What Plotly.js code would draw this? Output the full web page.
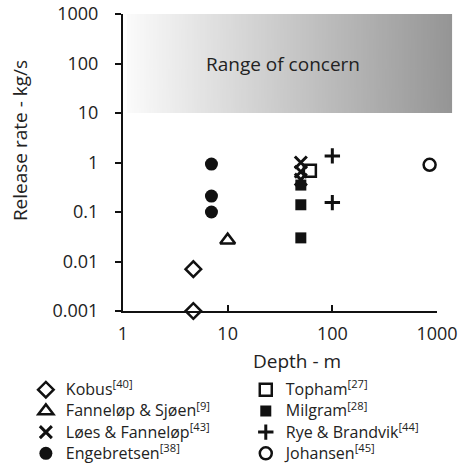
<!DOCTYPE html>
<html><head><meta charset="utf-8">
<script src="https://cdn.plot.ly/plotly-3.0.1.min.js"></script>
<style>html,body{margin:0;padding:0;background:#fff}#chart{width:462px;height:463px}</style>
</head><body><div id="chart"></div>
<script>
// Data (depth m, release rate kg/s)
const kobusX = [4.7, 4.7];            const kobusY = [0.007, 0.001];
const fanSjoenX = [10];               const fanSjoenY = [0.027];
const loesX = [50, 50, 50];           const loesY = [1.0, 0.65, 0.45];
const engX = [7, 7, 7];               const engY = [0.93, 0.21, 0.1];
const tophamX = [61];                 const tophamY = [0.68];
const milgramX = [50, 50, 50];        const milgramY = [0.35, 0.14, 0.03];
const ryeX = [100, 100];              const ryeY = [1.36, 0.155];
const johansenX = [850];              const johansenY = [0.9];
const xTicks = [1, 10, 100, 1000];
const xTickText = ['1', '10', '100', '1000'];
const yTicks = [0.001, 0.01, 0.1, 1, 10, 100, 1000];
const yTickText = ['0.001', '0.01', '0.1', '1', '10', '100', '1000'];

const font = 'Open Sans, sans-serif';
const black = '#111';
const txt = '#222';

function tr(name, x, y, symbol, size, lw, leg) {
  return {
    type: 'scatter', mode: 'markers', name: '<span style="font-size:16px">' + name + '</span>',
    x: x, y: y, cliponaxis: false, legend: leg,
    marker: {symbol: symbol, size: size, color: black, line: {color: black, width: lw}}
  };
}

const data = [
  tr('Kobus<sup>[40]</sup>', kobusX, kobusY, 'diamond-open', 12, 2.5, 'legend'),
  tr('Fanneløp &amp; Sjøen<sup>[9]</sup>', fanSjoenX, fanSjoenY, 'triangle-up-open', 13, 2.5, 'legend'),
  tr('Løes &amp; Fanneløp<sup>[43]</sup>', loesX, loesY, 'x-thin-open', 12, 3, 'legend'),
  tr('Engebretsen<sup>[38]</sup>', engX, engY, 'circle', 13, 0, 'legend'),
  tr('Topham<sup>[27]</sup>', tophamX, tophamY, 'square-open', 12, 2.5, 'legend2'),
  tr('Milgram<sup>[28]</sup>', milgramX, milgramY, 'square', 11, 0, 'legend2'),
  tr('Rye &amp; Brandvik<sup>[44]</sup>', ryeX, ryeY, 'cross-thin-open', 11, 3, 'legend2'),
  tr('Johansen<sup>[45]</sup>', johansenX, johansenY, 'circle-open', 12, 2.5, 'legend2')
];

// gradient image for the "Range of concern" band
const cv = document.createElement('canvas');
cv.width = 300; cv.height = 10;
const ctx = cv.getContext('2d');
const g = ctx.createLinearGradient(0, 0, 300, 0);
g.addColorStop(0, '#fbfbfb');
g.addColorStop(1, '#959595');
ctx.fillStyle = g; ctx.fillRect(0, 0, 300, 10);
const grad = cv.toDataURL();

const legendBase = {
  orientation: 'v', xref: 'container', yref: 'container', y: 0.192,
  xanchor: 'left', yanchor: 'top', itemwidth: 30,
  font: {size: 14, family: font, color: txt}, bgcolor: 'rgba(0,0,0,0)',
  tracegroupgap: 0
};

const layout = {
  width: 462, height: 463,
  margin: {l: 123, r: 25, t: 14, b: 152, autoexpand: false},
  paper_bgcolor: '#fff', plot_bgcolor: 'rgba(0,0,0,0)',
  font: {family: font, size: 16, color: txt},
  showlegend: true,
  xaxis: {
    type: 'log', range: [0, 3], showgrid: false, zeroline: false,
    showline: true, linecolor: black, linewidth: 2,
    ticks: 'inside', ticklen: 6, tickwidth: 2, tickcolor: black,
    tickvals: xTicks, ticktext: xTickText, tickfont: {size: 18, family: font, color: txt},
    ticklabelstandoff: 5
  },
  yaxis: {
    type: 'log', range: [-3, 3], showgrid: false, zeroline: false,
    showline: true, linecolor: black, linewidth: 2,
    ticks: 'outside', ticklen: 6, tickwidth: 2, tickcolor: black,
    tickvals: yTicks, ticktext: yTickText, tickfont: {size: 18, family: font, color: txt},
    ticklabelstandoff: 13
  },
  images: [{
    source: grad, xref: 'paper', yref: 'paper', x: 0.013, y: 1,
    sizex: 1.035, sizey: 0.3333, sizing: 'stretch', xanchor: 'left', yanchor: 'top', layer: 'below'
  }],
  annotations: [
    {text: 'Range of concern', xref: 'x', yref: 'y', x: Math.log10(34), y: 2, showarrow: false,
     xanchor: 'center', yanchor: 'middle', font: {size: 19, family: font, color: txt}},
    {text: 'Depth - m', xref: 'paper', yref: 'paper', x: 0.554, y: -0.168, showarrow: false,
     xanchor: 'center', yanchor: 'middle', font: {size: 19, family: font, color: txt}},
    {text: 'Release rate - kg/s', xref: 'paper', yref: 'paper', x: -0.328, y: 0.572, textangle: -90,
     xanchor: 'center', yanchor: 'middle', showarrow: false, font: {size: 19, family: font, color: txt}}
  ],
  legend: Object.assign({}, legendBase, {x: 0.056}),
  legend2: Object.assign({}, legendBase, {x: 0.532})
};

Plotly.newPlot('chart', data, layout, {displayModeBar: false, staticPlot: true});
</script></body></html>
